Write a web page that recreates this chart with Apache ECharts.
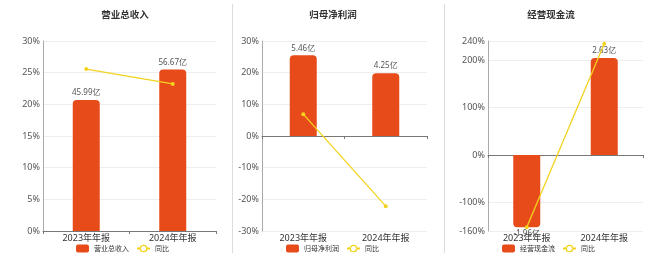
<!DOCTYPE html>
<html>
<head>
<meta charset="utf-8">
<script src="https://cdn.jsdelivr.net/npm/echarts@6/dist/echarts.min.js"></script>
<style>html,body{margin:0;padding:0;background:#fff;}#c{width:660px;height:257px;}</style>
</head>
<body>
<div id="c"></div>
<script>
// ---- data ----
const categories = ['2023年年报', '2024年年报'];
const titles = ['营业总收入', '归母净利润', '经营现金流'];
const revenue = [45.99, 56.67];
const revenueYoy = [25.56, 23.22];
const profit = [5.46, 4.25];
const profitYoy = [6.9, -22.16];
const cashflow = [-1.96, 2.63];
const cashflowYoy = [-152, 234];
const pctTicks1 = [0, 5, 10, 15, 20, 25, 30];
const pctTicks2 = [-30, -20, -10, 0, 10, 20, 30];
const pctTicks3 = [-160, -100, 0, 100, 200, 240];
const yoyName = '同比';

const BAR = '#E84B1A', LINE = '#F3D31E';
const FONT = '"Noto Sans", "Noto Sans CJK SC", sans-serif';

const panels = [
  {bars: revenue, yoy: revenueYoy, ticks: pctTicks1, grid: {left: 43, top: 41, width: 173, height: 190}, center: 120, legendLeft: 76},
  {bars: profit, yoy: profitYoy, ticks: pctTicks2, grid: {left: 262, top: 41, width: 165, height: 190}, center: 328, legendLeft: 286},
  {bars: cashflow, yoy: cashflowYoy, ticks: pctTicks3, grid: {left: 488, top: 41, width: 155, height: 190}, center: 546, legendLeft: 502}
];

const option = {
  animation: false,
  backgroundColor: '#fff',
  textStyle: {fontFamily: FONT},
  title: [], legend: [], grid: [], xAxis: [], yAxis: [], series: [],
  graphic: [
    {type: 'line', shape: {x1: 232.5, y1: 4, x2: 232.5, y2: 253}, style: {stroke: '#dcdcdc', lineWidth: 1}},
    {type: 'line', shape: {x1: 444.5, y1: 4, x2: 444.5, y2: 253}, style: {stroke: '#dcdcdc', lineWidth: 1}}
  ]
};

panels.forEach((p, i) => {
  const pMin = p.ticks[0], pMax = p.ticks[p.ticks.length - 1];
  const posMax = Math.max.apply(null, p.bars.map(Math.abs));
  const barMax = posMax / 0.85;
  const barMin = barMax * pMin / pMax;

  option.title.push({
    text: titles[i], left: p.center, top: 6, textAlign: 'center',
    textStyle: {fontSize: 9.5, fontWeight: 'bold', color: '#333', fontFamily: FONT}
  });
  option.legend.push({
    left: p.legendLeft, top: 244.5, padding: 0, itemWidth: 13, itemHeight: 8, itemGap: 7,
    textStyle: {fontSize: 7, color: '#333', fontFamily: FONT},
    data: [
      {name: titles[i], icon: 'roundRect'},
      {name: yoyName, itemStyle: {color: '#fff', borderColor: LINE, borderWidth: 1.3}}
    ],
    selectedMode: false
  });
  option.grid.push(Object.assign({containLabel: false}, p.grid));

  // x axis drawn on zero (line & ticks)
  option.xAxis.push({
    type: 'category', gridIndex: i, data: categories,
    axisLine: {show: true, onZero: true, onZeroAxisIndex: i * 2, lineStyle: {color: '#777', width: 1}},
    axisTick: {show: true, length: 3, lineStyle: {color: '#777'}},
    axisLabel: {show: false}, splitLine: {show: false}
  });
  // x axis labels at bottom
  option.xAxis.push({
    type: 'category', gridIndex: i, data: categories, position: 'bottom',
    axisLine: {show: false, onZero: false}, axisTick: {show: false},
    axisLabel: {show: true, fontSize: 9, color: '#333', margin: 3, fontFamily: FONT},
    splitLine: {show: false}
  });

  const yPct = {
    type: 'value', gridIndex: i, min: pMin, max: pMax,
    axisLine: {show: true, lineStyle: {color: '#aaa'}},
    axisTick: {show: false},
    axisLabel: {fontSize: 9, color: '#555', margin: 3, formatter: '{value}%', fontFamily: FONT},
    splitLine: {show: true, lineStyle: {color: '#eee'}}
  };
  if (i === 2) {
    yPct.axisLabel.customValues = pctTicks3;
    yPct.axisTick.customValues = pctTicks3;
  } else {
    yPct.interval = p.ticks[1] - p.ticks[0];
  }
  option.yAxis.push(yPct);
  option.yAxis.push({
    type: 'value', gridIndex: i, min: barMin, max: barMax, show: false,
    splitLine: {show: false}
  });

  option.series.push({
    type: 'bar', name: titles[i], xAxisIndex: i * 2, yAxisIndex: i * 2 + 1,
    barWidth: 27,
    data: p.bars.map(v => ({
      value: v,
      itemStyle: {color: BAR, borderRadius: v >= 0 ? [4, 4, 0, 0] : [0, 0, 4, 4]},
      label: {position: v >= 0 ? 'top' : 'bottom'}
    })),
    itemStyle: {color: BAR},
    label: {show: true, fontSize: 8, color: '#555', distance: 3, formatter: d => d.value + '亿', fontFamily: FONT},
    z: 2
  });
  option.series.push({
    type: 'line', name: yoyName, xAxisIndex: i * 2, yAxisIndex: i * 2,
    data: p.yoy,
    symbol: 'circle', symbolSize: 4,
    itemStyle: {color: LINE},
    lineStyle: {color: LINE, width: 1.3},
    z: 5
  });
});

const chart = echarts.init(document.getElementById('c'), null, {renderer: 'canvas'});
chart.setOption(option);
</script>
</body>
</html>
